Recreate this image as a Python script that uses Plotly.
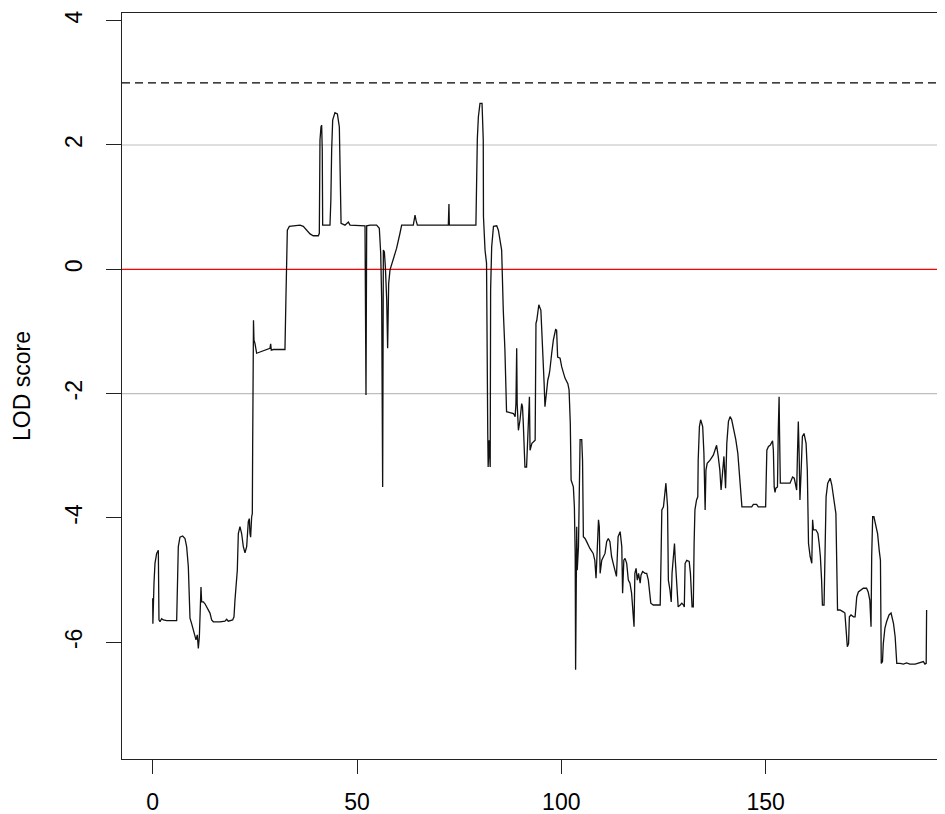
import plotly.graph_objects as go

# Position along the chromosome (cM) and LOD score
cm = [0.0, 0.05, 0.32, 0.56, 0.97, 1.38, 1.54, 1.79, 2.19, 2.60, 3.42, 5.87, 6.11, 6.27, 6.68, 7.33, 7.90, 8.31, 8.72, 8.96,
      9.13, 9.53, 9.94, 10.35, 10.60, 10.92, 11.17, 11.42, 11.58, 11.82, 11.98, 12.39, 12.80, 13.20, 13.61, 14.02, 14.43, 14.84, 16.47, 17.69,
      18.10, 18.50, 19.57, 19.90, 20.14, 20.55, 20.71, 20.96, 21.36, 21.77, 22.18, 22.59, 23.00, 23.40, 23.65, 23.81, 23.97, 24.22, 24.38, 24.46,
      24.63, 24.67, 24.79, 25.03, 25.44, 26.26, 27.07, 27.89, 28.70, 28.87, 29.03, 29.52, 32.37,
      32.60, 32.95, 33.44, 34.40, 36.05, 36.86, 37.68, 38.50, 39.30, 40.54, 40.78, 40.94, 41.19, 41.35, 41.50, 41.60, 43.39, 43.60, 43.80, 44.05,
      44.60, 45.20, 45.68, 45.84, 46.10, 47.06, 47.47, 47.88, 48.30, 51.96, 52.20, 52.37, 53.20, 54.80, 55.46, 55.80, 56.04, 56.28, 56.45, 56.70,
      56.94, 57.27, 57.50, 57.75, 58.08, 58.48, 58.90, 59.70, 60.52, 60.93, 63.78, 64.20, 64.44, 64.77, 72.35, 72.50, 72.60, 79.10,
      79.45, 79.70, 80.10, 80.60, 80.90, 80.95, 81.33, 81.70, 82.00, 82.10, 82.30, 82.60, 82.70, 82.96, 83.40, 84.20, 84.60, 85.40, 85.80, 86.20,
      86.60, 87.50, 88.30, 88.70, 88.90, 89.08, 89.20, 89.50, 89.90, 90.30, 90.50, 90.70, 91.10, 91.50, 91.90, 92.20, 92.35, 92.80, 93.60, 93.80,
      94.00, 94.50, 95.00, 95.40, 95.80, 96.00, 96.30, 96.70, 97.00, 97.20, 97.65, 98.05, 98.60, 98.85, 99.10, 99.70, 100.10, 100.50, 100.90, 101.60,
      101.90, 102.20, 102.40, 102.95, 103.20, 103.40, 103.50, 103.77, 103.90, 104.20, 104.40, 104.60, 105.00, 105.20, 105.40, 105.80, 106.20, 107.00, 107.80, 108.20,
      108.50, 108.80, 109.10, 109.30, 109.50, 109.90, 110.70, 111.10, 111.50, 111.90, 112.30, 112.70, 113.10, 113.50, 113.90, 114.40, 114.80, 115.00, 115.30, 115.60,
      116.00, 116.40, 116.80, 117.20, 117.80, 118.00, 118.30, 118.60, 118.90, 119.30, 119.50, 119.90, 120.50, 120.90, 121.30, 121.90, 122.50, 124.20, 124.40, 124.60,
      125.00, 125.40, 125.60, 126.00, 126.20, 126.60, 126.90, 127.10, 127.40, 127.70, 127.90, 128.10, 128.40, 128.60, 129.10, 129.50, 129.90, 130.10, 130.30, 130.70,
      131.30, 131.60, 132.00, 132.30, 132.50, 132.70, 133.10, 133.40, 133.50, 133.80, 134.10, 134.60, 134.90, 135.20, 135.40, 135.70, 136.40, 137.20, 137.60, 138.00,
      138.40, 138.80, 139.10, 139.50, 139.80, 140.20, 140.50, 140.90, 141.30, 141.70, 142.10, 142.70, 143.20, 143.70, 144.20,
      146.60, 147.00, 147.80, 148.20, 150.00, 150.30, 150.70, 151.10, 151.70, 151.90, 152.10, 152.30, 152.50, 152.90, 153.10, 153.30, 153.40, 153.60, 155.97, 156.60,
      157.00, 157.40, 157.60, 157.80, 158.00, 158.20, 158.40, 158.70, 159.00, 159.40, 159.90, 160.20, 160.50, 160.90, 161.30, 161.50, 161.70, 162.30, 162.80, 163.10,
      163.40, 163.70, 163.90, 164.30, 164.60, 164.80, 165.20, 165.80, 166.20, 166.60, 167.20, 167.60, 168.20, 169.00, 169.40, 169.70, 170.00, 170.30, 170.50, 170.90,
      171.50, 171.90, 172.30, 172.70, 173.30, 173.90, 174.70, 175.10, 175.50, 175.80, 175.96, 176.20, 176.50, 176.90, 177.40, 177.80, 178.10, 178.30, 178.60, 178.80,
      179.20, 179.60, 180.20, 180.70, 181.30, 181.70, 182.10, 182.90, 183.70, 184.50, 185.30, 186.60, 187.80, 188.60, 189.00, 189.30, 189.40]

lod = [-5.29, -5.70, -5.05, -4.73, -4.57, -4.52, -5.64, -5.67, -5.62, -5.64, -5.65, -5.65, -4.94, -4.46, -4.31, -4.29, -4.33, -4.46, -4.78, -5.59,
       -5.61, -5.70, -5.80, -5.91, -5.96, -5.88, -6.10, -5.91, -5.64, -5.11, -5.35, -5.35, -5.38, -5.43, -5.48, -5.53, -5.64, -5.67, -5.67, -5.66,
       -5.63, -5.66, -5.64, -5.59, -5.32, -5.00, -4.84, -4.25, -4.14, -4.25, -4.46, -4.56, -4.46, -4.06, -4.01, -4.25, -4.31, -3.98, -3.93, -2.91,
       -1.94, -0.82, -1.14, -1.19, -1.35, -1.33, -1.31, -1.30, -1.27, -1.20, -1.30, -1.29, -1.29,
       -0.49, 0.63, 0.69, 0.70, 0.71, 0.69, 0.63, 0.57, 0.54, 0.54, 0.58, 2.08, 2.29, 2.32, 1.92, 0.71, 0.71, 1.11, 1.92, 2.40,
       2.52, 2.50, 2.29, 1.86, 0.74, 0.71, 0.74, 0.76, 0.71, 0.70, -2.02, 0.70, 0.71, 0.71, 0.66, 0.26, -0.49, -3.50, 0.31, 0.28,
       0.04, -0.49, -1.27, -0.23, -0.01, 0.07, 0.15, 0.34, 0.58, 0.71, 0.71, 0.87, 0.79, 0.71, 0.71, 1.05, 0.71, 0.71,
       2.10, 2.45, 2.67, 2.67, 2.08, 0.85, 0.31, 0.10, -2.64, -3.18, -2.75, -3.18, -0.33, 0.36, 0.69, 0.70, 0.63, 0.31, -0.66, -1.30,
       -2.29, -2.31, -2.32, -2.37, -2.16, -1.27, -2.16, -2.59, -2.42, -2.16, -2.21, -2.48, -3.18, -3.18, -2.48, -2.05, -2.91, -2.80, -2.75, -0.87,
       -0.82, -0.57, -0.66, -1.14, -1.84, -2.21, -2.00, -1.78, -1.70, -1.62, -1.35, -1.14, -0.97, -0.98, -1.41, -1.43, -1.57, -1.68, -1.75, -1.84,
       -1.94, -2.48, -3.39, -3.50, -3.82, -4.60, -6.44, -4.14, -4.84, -4.46, -3.60, -2.74, -2.74, -3.07, -4.30, -4.33, -4.38, -4.49, -4.57, -4.68,
       -4.97, -4.35, -4.03, -4.14, -4.89, -4.68, -4.57, -4.38, -4.33, -4.38, -4.62, -4.73, -4.84, -4.94, -4.30, -4.22, -4.46, -5.21, -4.68, -4.65,
       -4.73, -5.00, -5.05, -5.21, -5.75, -4.89, -4.81, -5.00, -4.89, -5.05, -4.92, -4.86, -4.89, -4.89, -5.00, -5.37, -5.40, -5.40, -4.68, -3.87,
       -3.82, -3.50, -3.44, -3.82, -5.00, -5.16, -5.35, -4.89, -4.62, -4.41, -4.68, -4.94, -5.16, -5.43, -5.40, -5.37, -5.40, -5.43, -4.73, -4.68,
       -4.70, -4.89, -5.43, -5.43, -4.41, -3.87, -3.71, -3.66, -3.07, -2.53, -2.42, -2.53, -2.96, -3.87, -3.23, -3.12, -3.07, -2.99, -2.91, -2.83,
       -3.01, -3.23, -3.55, -3.17, -3.01, -3.52, -2.80, -2.45, -2.37, -2.42, -2.53, -2.74, -2.96, -3.33, -3.82,
       -3.82, -3.78, -3.78, -3.82, -3.82, -2.91, -2.85, -2.83, -2.76, -2.91, -3.50, -3.59, -3.52, -3.50, -2.59, -2.05, -2.59, -3.44, -3.44, -3.34,
       -3.36, -3.47, -3.55, -2.96, -2.45, -2.96, -3.71, -3.23, -2.69, -2.64, -2.80, -3.23, -4.41, -4.62, -4.73, -4.03, -4.19, -4.19, -4.25, -4.41,
       -4.62, -5.00, -5.40, -5.40, -4.19, -3.66, -3.44, -3.36, -3.47, -3.66, -3.93, -5.48, -5.48, -5.51, -5.53, -5.80, -6.07, -6.02, -5.59, -5.56,
       -5.59, -5.59, -5.27, -5.19, -5.16, -5.13, -5.13, -5.19, -5.32, -5.75, -4.62, -3.98, -3.98, -4.08, -4.25, -4.52, -4.68, -6.34, -6.31, -6.02,
       -5.77, -5.67, -5.56, -5.53, -5.70, -5.91, -6.34, -6.34, -6.35, -6.33, -6.35, -6.35, -6.33, -6.31, -6.35, -6.34, -5.48]

x_ticks = [0, 50, 100, 150]
y_ticks = [-6, -4, -2, 0, 2, 4]
threshold = 3
gray_levels = [2, -2]
zero_level = 0

FONT = "Liberation Sans, Arial, Helvetica, sans-serif"

fig = go.Figure()

# reference lines
for g in gray_levels:
    fig.add_hline(y=g, line=dict(color="#BEBEBE", width=1.2), layer="below")
fig.add_hline(y=zero_level, line=dict(color="#FF0000", width=1.2), layer="below")
fig.add_hline(y=threshold, line=dict(color="#000000", width=1.2, dash="8px,5px"), layer="below")

fig.add_trace(go.Scatter(x=cm, y=lod, mode="lines",
                         line=dict(color="#111111", width=1.3),
                         showlegend=False, hoverinfo="skip"))

# the page body adds an 8px offset, so the figure is 8px smaller than the window
fig.update_layout(
    width=937, height=806,
    margin=dict(l=114, r=0, t=5, b=55, autoexpand=False),
    paper_bgcolor="white", plot_bgcolor="white",
    font=dict(family=FONT, size=23, color="#000000"),
    showlegend=False,
)

fig.update_xaxes(
    range=[-7.51, 193.9], tickvals=x_ticks, ticktext=[str(v) for v in x_ticks],
    ticks="outside", ticklen=14, tickwidth=1, tickcolor="#222222",
    showline=True, linecolor="#222222", linewidth=1, mirror=True,
    showgrid=False, zeroline=False, ticklabelstandoff=8,
    tickfont=dict(family=FONT, size=23, color="#000000"),
)
fig.update_yaxes(
    range=[-7.877, 4.123], tickvals=y_ticks, ticktext=[str(v) for v in y_ticks],
    ticks="outside", ticklen=15, tickwidth=1, tickcolor="#222222",
    showline=True, linecolor="#222222", linewidth=1, mirror=False,
    showgrid=False, zeroline=False, tickangle=-90, ticklabelstandoff=15,
    tickfont=dict(family=FONT, size=23, color="#000000"),
)

fig.add_annotation(
    text="LOD score", textangle=-90, showarrow=False,
    xref="paper", yref="paper", x=(14 - 114) / 823, y=0.5,
    xanchor="center", yanchor="middle",
    font=dict(family=FONT, size=23, color="#000000"),
)

fig.write_html("out.html")
